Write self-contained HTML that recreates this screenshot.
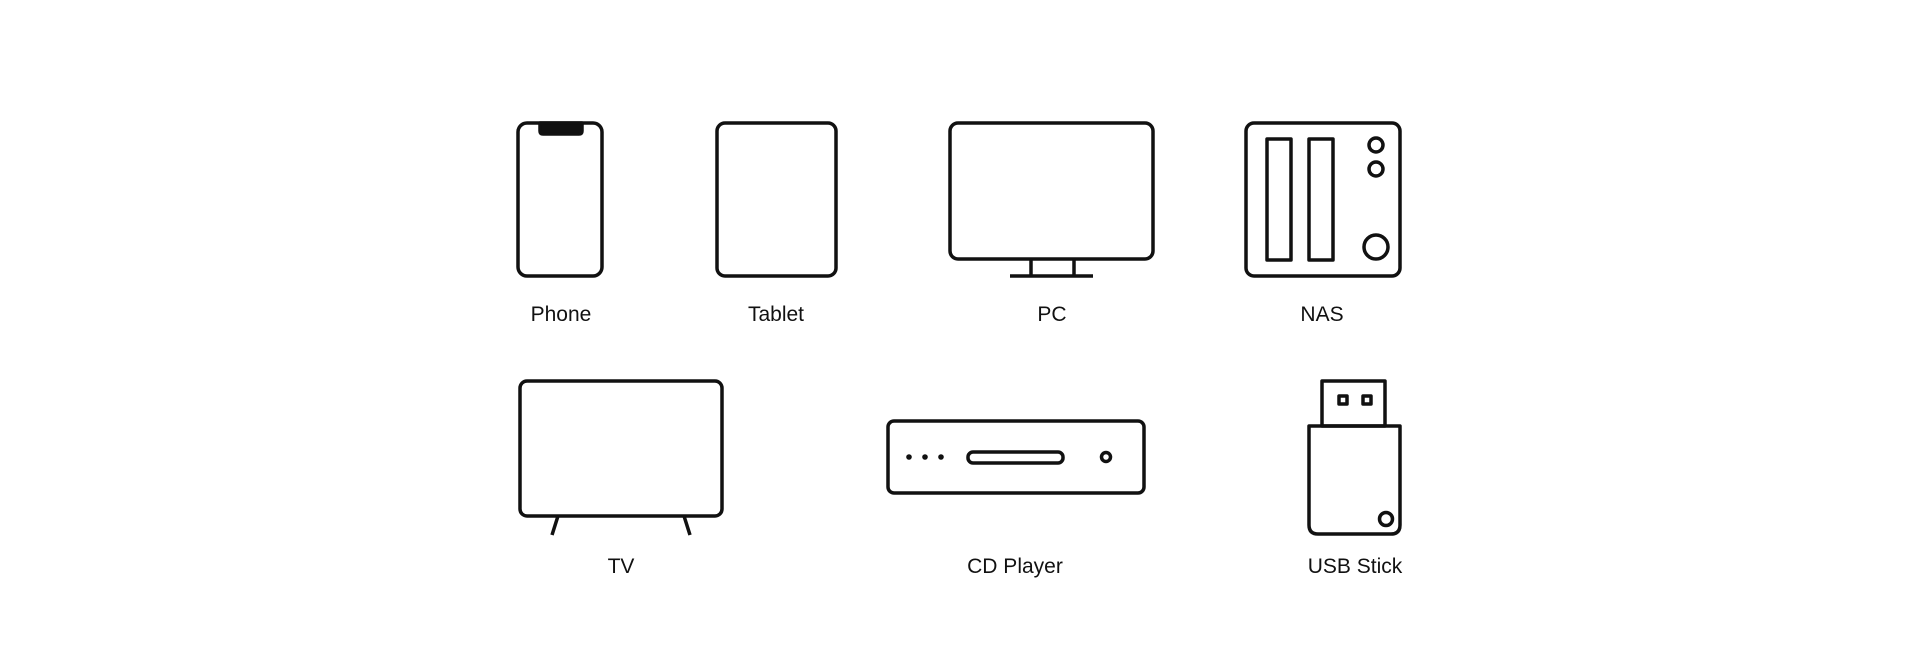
<!DOCTYPE html>
<html><head><meta charset="utf-8"><style>
html,body{margin:0;padding:0;background:#fff;}
svg{display:block}
text{font-family:"Liberation Sans",sans-serif;font-size:21px;fill:#111;text-anchor:middle}
</style></head><body>
<svg width="1920" height="670" viewBox="0 0 1920 670">
<g fill="none" stroke="#111" stroke-width="3.5" stroke-linejoin="round">
<!-- Phone -->
<rect x="518" y="123" width="84" height="153" rx="9"/>
<path d="M540 123 h42 v8 q0 3 -3 3 h-36 q-3 0 -3 -3z" fill="#111"/>
<!-- Tablet -->
<rect x="717" y="123" width="119" height="153" rx="8"/>
<!-- PC -->
<rect x="950" y="123" width="203" height="136" rx="8"/>
<path d="M1031 259 v17 M1074 259 v17 M1010 276 h83"/>
<!-- NAS -->
<rect x="1246" y="123" width="154" height="153" rx="8"/>
<rect x="1267" y="139" width="24" height="121"/>
<rect x="1309" y="139" width="24" height="121"/>
<circle cx="1376" cy="145" r="7"/>
<circle cx="1376" cy="169" r="7"/>
<circle cx="1376" cy="247" r="12"/>
<!-- TV -->
<rect x="520" y="381" width="202" height="135" rx="7"/>
<path d="M558 516 l-6 19 M684 516 l6 19"/>
<!-- CD -->
<rect x="888" y="421" width="256" height="72" rx="6"/>
<rect x="968" y="452" width="95" height="11" rx="5"/>
<circle cx="1106" cy="457" r="4.5"/>
<!-- USB -->
<rect x="1322" y="381" width="63" height="45"/>
<rect x="1339" y="396" width="8" height="8"/>
<rect x="1363" y="396" width="8" height="8"/>
<path d="M1309 426 h91 v99 q0 9 -9 9 h-73 q-9 0 -9 -9z"/>
<circle cx="1386" cy="519" r="6.5"/>
</g>
<g fill="#111">
<circle cx="909" cy="457" r="2.8"/><circle cx="925" cy="457" r="2.8"/><circle cx="941" cy="457" r="2.8"/>
</g>
<text x="561" y="321">Phone</text>
<text x="776" y="321">Tablet</text>
<text x="1052" y="321">PC</text>
<text x="1322" y="321">NAS</text>
<text x="621" y="573">TV</text>
<text x="1015" y="573">CD Player</text>
<text x="1355" y="573">USB Stick</text>
</svg>
</body></html>
